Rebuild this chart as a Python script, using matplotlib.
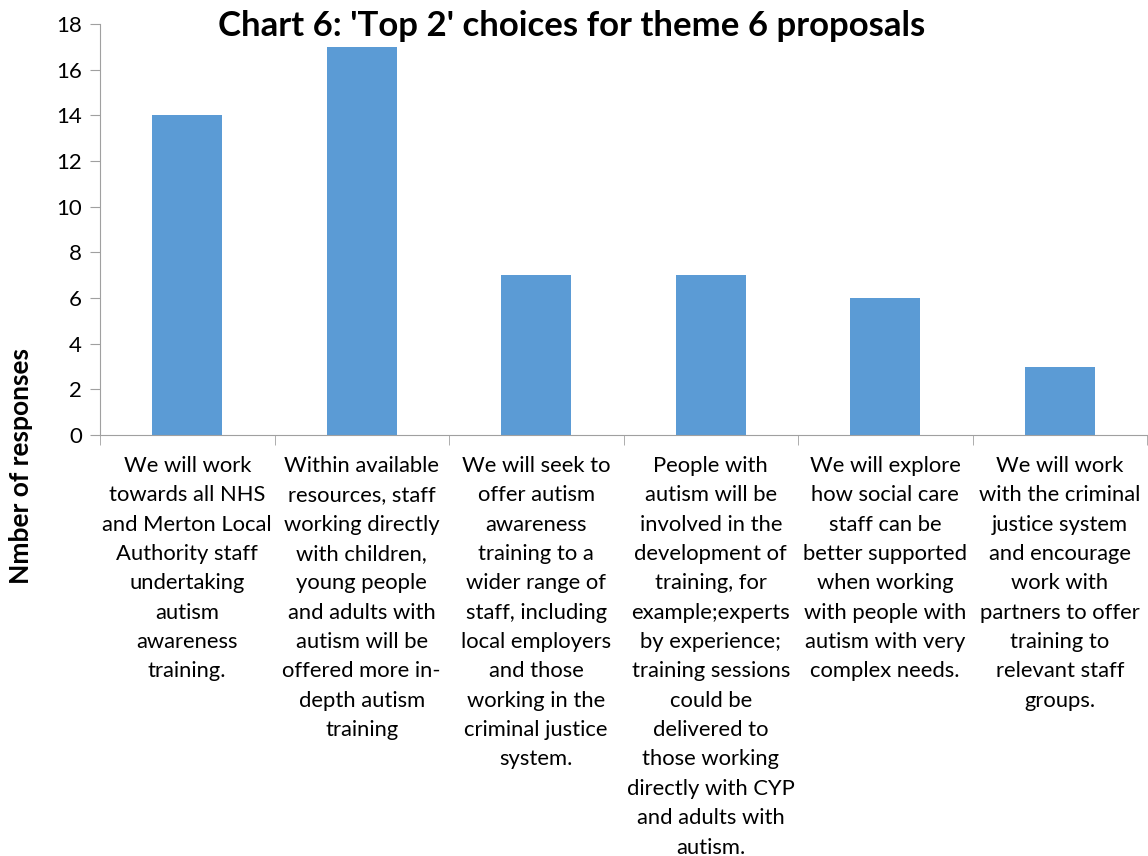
import matplotlib.pyplot as plt
import numpy as np

plt.rcParams['font.family'] = ['Lato', 'DejaVu Sans']

title = "Chart 6: 'Top 2' choices for theme 6 proposals"
ylabel = "Nmber of responses"
categories = [
    "We will work\ntowards all NHS\nand Merton Local\nAuthority staff\nundertaking\nautism\nawareness\ntraining.",
    "Within available\nresources, staff\nworking directly\nwith children,\nyoung people\nand adults with\nautism will be\noffered more in-\ndepth autism\ntraining",
    "We will seek to\noffer autism\nawareness\ntraining to a\nwider range of\nstaff, including\nlocal employers\nand those\nworking in the\ncriminal justice\nsystem.",
    "People with\nautism will be\ninvolved in the\ndevelopment of\ntraining, for\nexample;experts\nby experience;\ntraining sessions\ncould be\ndelivered to\nthose working\ndirectly with CYP\nand adults with\nautism.",
    "We will explore\nhow social care\nstaff can be\nbetter supported\nwhen working\nwith people with\nautism with very\ncomplex needs.",
    "We will work\nwith the criminal\njustice system\nand encourage\nwork with\npartners to offer\ntraining to\nrelevant staff\ngroups.",
]
values = [14, 17, 7, 7, 6, 3]
yticks = [0, 2, 4, 6, 8, 10, 12, 14, 16, 18]

fig = plt.figure(figsize=(11.48, 8.56), dpi=100)
ax = fig.add_axes([100/1148, 1 - 435/856, 1047/1148, 411/856])

x = np.arange(len(values))
ax.bar(x, values, width=0.40, color='#5B9BD5', zorder=2)

ax.set_xlim(-0.5, len(values) - 0.5)
ax.set_ylim(0, 18)
ax.set_yticks(yticks)
ax.set_xticks(x)
ax.set_xticklabels(categories, fontsize=15.8, linespacing=1.585, va='top')
ax.set_xticks(np.arange(len(values) + 1) - 0.5, minor=True)
ax.tick_params(axis='x', which='major', length=0, pad=15)
ax.tick_params(axis='x', which='minor', length=7, color='#A0A0A0')
ax.tick_params(axis='y', labelsize=16, length=7, color='#A0A0A0', pad=6)

for s in ['top', 'right']:
    ax.spines[s].set_visible(False)
for s in ['left', 'bottom']:
    ax.spines[s].set_color('#A0A0A0')

fig.text(21/1148, 1 - 466/856, ylabel, fontsize=19, fontweight='bold',
         rotation=90, ha='center', va='center')
fig.text(572/1148, 1 - 26/856, title, fontsize=25, fontweight='bold',
         ha='center', va='center')

fig.savefig('out.png', dpi=100)
